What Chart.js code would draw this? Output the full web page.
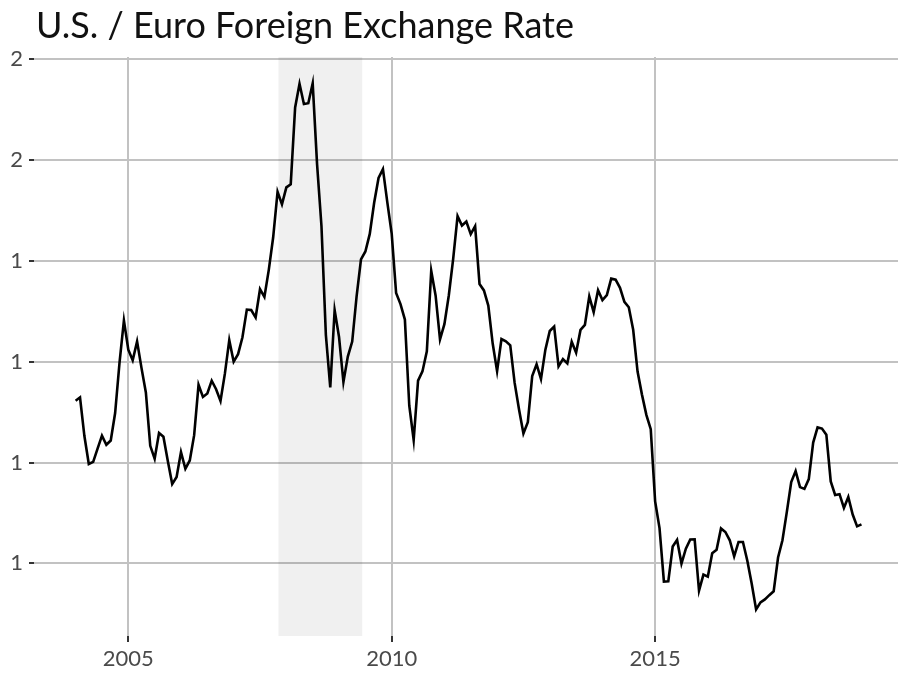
<!DOCTYPE html>
<html>
<head>
<meta charset="utf-8">
<script src="https://cdn.jsdelivr.net/npm/chart.js@4.4.1/dist/chart.umd.min.js"></script>
<style>
  html, body { margin: 0; padding: 0; background: #ffffff; }
  #wrap { width: 898px; height: 677px; position: relative; }
</style>
</head>
<body>
<div id="wrap"><canvas id="c" width="898" height="677"></canvas></div>
<script>
// ---- data (monthly averages) ----
const years = [2004, 2005, 2006, 2007, 2008, 2009, 2010, 2011, 2012, 2013, 2014, 2015, 2016, 2017, 2018];
const rate2004 = [1.2613, 1.2646, 1.2262, 1.1985, 1.2007, 1.2138, 1.2266, 1.2176, 1.2218, 1.2490, 1.2991, 1.3408];
const rate2005 = [1.3119, 1.3014, 1.3201, 1.2938, 1.2694, 1.2165, 1.2037, 1.2292, 1.2256, 1.2015, 1.1786, 1.1856];
const rate2006 = [1.2103, 1.1938, 1.2020, 1.2271, 1.2770, 1.2650, 1.2684, 1.2811, 1.2727, 1.2611, 1.2881, 1.3213];
const rate2007 = [1.2999, 1.3074, 1.3242, 1.3516, 1.3511, 1.3437, 1.3718, 1.3642, 1.3910, 1.4233, 1.4683, 1.4559];
const rate2008 = [1.4728, 1.4759, 1.5520, 1.5754, 1.5554, 1.5562, 1.5759, 1.4955, 1.4342, 1.3266, 1.2744, 1.3511];
const rate2009 = [1.3244, 1.2797, 1.3050, 1.3199, 1.3646, 1.4014, 1.4092, 1.4266, 1.4575, 1.4821, 1.4908, 1.4579];
const rate2010 = [1.4266, 1.3680, 1.3570, 1.3417, 1.2563, 1.2223, 1.2811, 1.2903, 1.3103, 1.3901, 1.3654, 1.3221];
const rate2011 = [1.3371, 1.3656, 1.4019, 1.4442, 1.4349, 1.4388, 1.4264, 1.4343, 1.3770, 1.3706, 1.3556, 1.3179];
const rate2012 = [1.2905, 1.3224, 1.3201, 1.3162, 1.2789, 1.2526, 1.2288, 1.2400, 1.2856, 1.2974, 1.2828, 1.3119];
const rate2013 = [1.3304, 1.3347, 1.2953, 1.3025, 1.2983, 1.3197, 1.3088, 1.3314, 1.3364, 1.3646, 1.3491, 1.3708];
const rate2014 = [1.3610, 1.3659, 1.3823, 1.3813, 1.3732, 1.3592, 1.3539, 1.3316, 1.2901, 1.2673, 1.2472, 1.2331];
const rate2015 = [1.1615, 1.1350, 1.0819, 1.0822, 1.1167, 1.1232, 1.0998, 1.1145, 1.1237, 1.1238, 1.0730, 1.0889];
const rate2016 = [1.0868, 1.1100, 1.1134, 1.1346, 1.1311, 1.1229, 1.1069, 1.1212, 1.1212, 1.1026, 1.0799, 1.0543];
const rate2017 = [1.0614, 1.0643, 1.0685, 1.0723, 1.1058, 1.1229, 1.1511, 1.1807, 1.1915, 1.1756, 1.1738, 1.1836];
const rate2018 = [1.2197, 1.2348, 1.2336, 1.2276, 1.1812, 1.1678, 1.1686, 1.1549, 1.1659, 1.1484, 1.1367, 1.1387];
const ratesByYear = [rate2004, rate2005, rate2006, rate2007, rate2008, rate2009, rate2010,
                     rate2011, rate2012, rate2013, rate2014, rate2015, rate2016, rate2017, rate2018];

const xTickValues = [2005, 2010, 2015];
const xTickLabels = ['2005', '2010', '2015'];
const yTickValues = [1.1, 1.2, 1.3, 1.4, 1.5, 1.6];
const yTickLabels = ['1', '1', '1', '1', '2', '2'];
const recession = [2007.85, 2009.44];   // shaded band (start, end)
const titleText = 'U.S. / Euro Foreign Exchange Rate';

// ---- build points ----
const points = [];
years.forEach((yr, i) => {
  ratesByYear[i].forEach((v, m) => points.push({ x: yr + m / 12, y: v }));
});

const FONT = 'Lato, "Open Sans", sans-serif';

const shadePlugin = {
  id: 'shade',
  beforeDatasetsDraw(chart) {
    const { ctx, chartArea, scales } = chart;
    const x0 = scales.x.getPixelForValue(recession[0]);
    const x1 = scales.x.getPixelForValue(recession[1]);
    ctx.save();
    ctx.fillStyle = 'rgba(0,0,0,0.06)';
    ctx.fillRect(x0, chartArea.top, x1 - x0, chartArea.bottom - chartArea.top);
    ctx.restore();
  }
};

const titlePlugin = {
  id: 'ttl',
  afterDraw(chart) {
    const ctx = chart.ctx;
    ctx.save();
    ctx.font = '36px ' + FONT;
    ctx.fillStyle = '#111111';
    ctx.textBaseline = 'alphabetic';
    ctx.textAlign = 'left';
    ctx.fillText(titleText, 36, 38);
    ctx.restore();
  }
};

new Chart(document.getElementById('c'), {
  type: 'line',
  data: {
    datasets: [{
      data: points,
      borderColor: '#000000',
      borderWidth: 2.6,
      pointRadius: 0,
      tension: 0,
      fill: false
    }]
  },
  options: {
    responsive: false,
    devicePixelRatio: 1,
    animation: false,
    layout: { padding: { top: 57, left: 0, right: 0, bottom: 0 } },
    plugins: { legend: { display: false }, title: { display: false }, tooltip: { enabled: false } },
    scales: {
      x: {
        type: 'linear',
        min: 2003.21,
        max: 2019.61,
        afterBuildTicks: s => { s.ticks = xTickValues.map(v => ({ value: v })); },
        afterFit: s => { s.height = 41; },
        border: { display: false },
        grid: { color: '#c2c2c2', lineWidth: 2, tickColor: '#333333', tickLength: 6, tickWidth: 2 },
        ticks: {
          padding: 4,
          color: '#4a4a4a',
          font: { family: FONT, size: 22 },
          maxRotation: 0,
          autoSkip: false,
          callback: v => xTickLabels[xTickValues.indexOf(v)]
        }
      },
      y: {
        type: 'linear',
        min: 1.028,
        max: 1.602,
        afterBuildTicks: s => { s.ticks = yTickValues.map(v => ({ value: v })); },
        afterFit: s => { s.width = 34; },
        border: { display: false },
        grid: { color: '#c2c2c2', lineWidth: 2, tickColor: '#333333', tickLength: 5, tickWidth: 2 },
        ticks: {
          padding: 6,
          color: '#4a4a4a',
          font: { family: FONT, size: 22 },
          autoSkip: false,
          callback: v => yTickLabels[yTickValues.findIndex(t => Math.abs(t - v) < 1e-6)]
        }
      }
    }
  },
  plugins: [shadePlugin, titlePlugin]
});
</script>
</body>
</html>
